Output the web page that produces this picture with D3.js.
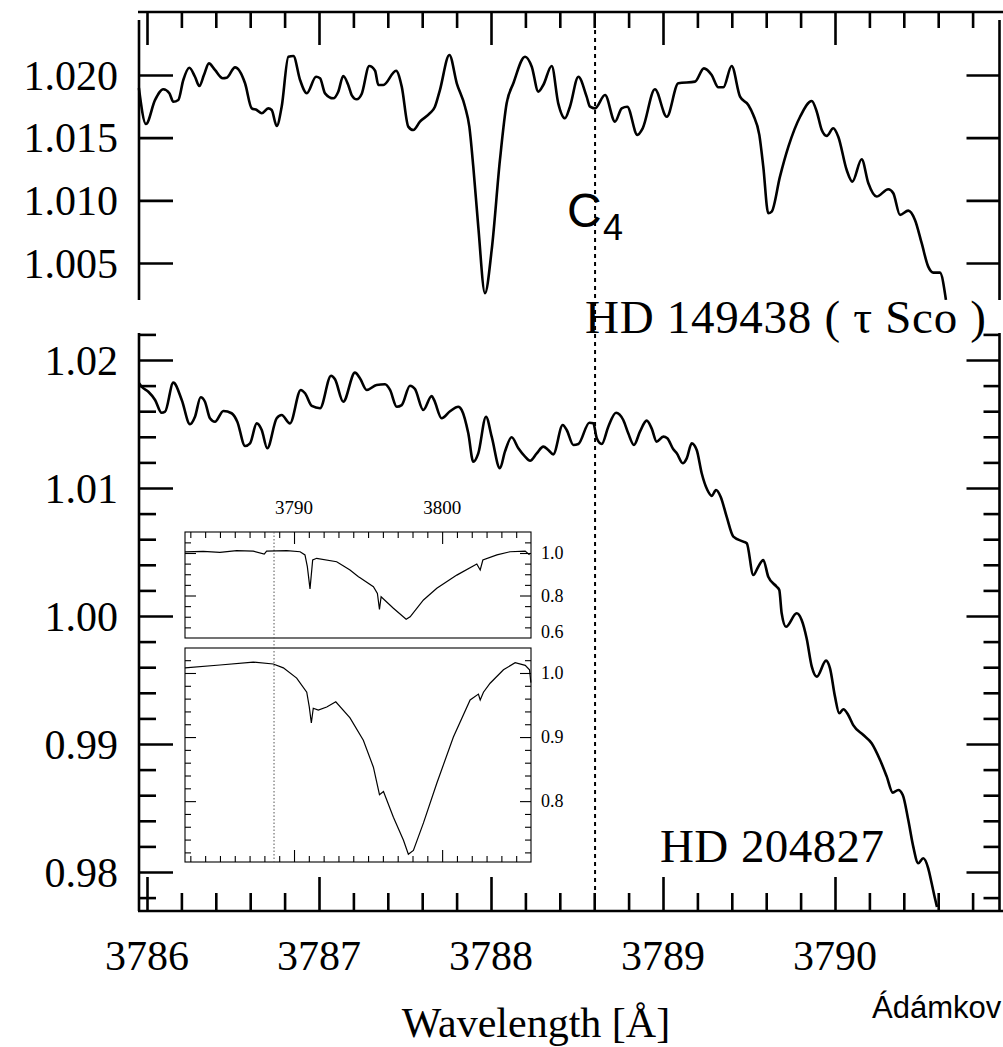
<!DOCTYPE html>
<html><head><meta charset="utf-8">
<script src="https://cdn.jsdelivr.net/npm/d3@7"></script>
<style>body{margin:0;background:#fff}svg{display:block}</style>
</head><body>
<script>
// ---------- DATA ----------
const topWave = [3785.953,3785.994,3786.047,3786.095,3786.130,3786.153,3786.182,3786.211,3786.246,3786.279,3786.304,3786.331,3786.360,3786.395,3786.440,3786.463,3786.512,3786.570,3786.609,3786.638,3786.667,3786.705,3786.725,3786.754,3786.783,3786.822,3786.851,3786.890,3786.929,3786.983,3787.006,3787.035,3787.083,3787.112,3787.141,3787.170,3787.190,3787.219,3787.248,3787.292,3787.326,3787.345,3787.374,3787.448,3787.481,3787.519,3787.548,3787.587,3787.645,3787.674,3787.703,3787.758,3787.801,3787.849,3787.874,3787.897,3787.926,3787.965,3788.004,3788.052,3788.091,3788.130,3788.198,3788.237,3788.275,3788.304,3788.353,3788.391,3788.430,3788.459,3788.508,3788.556,3788.576,3788.605,3788.663,3788.721,3788.760,3788.792,3788.851,3788.882,3788.953,3789.022,3789.089,3789.186,3789.238,3789.283,3789.322,3789.351,3789.399,3789.448,3789.496,3789.525,3789.560,3789.583,3789.612,3789.632,3789.680,3789.729,3789.797,3789.865,3789.894,3789.923,3789.952,3789.990,3790.019,3790.068,3790.101,3790.155,3790.194,3790.242,3790.310,3790.339,3790.378,3790.426,3790.465,3790.504,3790.542,3790.572,3790.610,3790.645];
const topFlux = [1.01896,1.01609,1.01801,1.01886,1.01854,1.01787,1.01801,1.01960,1.02058,1.01986,1.01912,1.02000,1.02093,1.02040,1.01974,1.01978,1.02061,1.01934,1.01734,1.01721,1.01695,1.01734,1.01721,1.01593,1.01747,1.02146,1.02152,1.01960,1.01854,1.01986,1.01974,1.01854,1.01814,1.01867,1.01992,1.01920,1.01840,1.01806,1.01848,1.02072,1.02034,1.01920,1.01920,1.02034,1.01907,1.01588,1.01561,1.01628,1.01695,1.01747,1.01880,1.02160,1.01934,1.01747,1.01588,1.01269,1.00790,1.00259,1.00604,1.01322,1.01774,1.01934,1.02146,1.02066,1.01867,1.01920,1.02072,1.01774,1.01655,1.01747,1.01986,1.01827,1.01747,1.01734,1.01840,1.01628,1.01734,1.01747,1.01522,1.01575,1.01886,1.01667,1.01934,1.01947,1.02053,1.02000,1.01902,1.01902,1.02072,1.01827,1.01761,1.01681,1.01522,1.01269,1.00897,1.00910,1.01189,1.01428,1.01667,1.01793,1.01707,1.01561,1.01514,1.01575,1.01508,1.01242,1.01149,1.01328,1.01136,1.01030,1.01089,1.01057,1.00884,1.00918,1.00844,1.00658,1.00471,1.00423,1.00423,1.00206];

const botWave = [3785.953,3785.969,3786.008,3786.047,3786.085,3786.105,3786.153,3786.202,3786.250,3786.279,3786.312,3786.337,3786.366,3786.395,3786.444,3786.492,3786.525,3786.570,3786.599,3786.638,3786.667,3786.699,3786.754,3786.783,3786.831,3786.894,3786.919,3786.958,3787.006,3787.070,3787.093,3787.141,3787.209,3787.238,3787.277,3787.335,3787.384,3787.413,3787.452,3787.481,3787.529,3787.558,3787.606,3787.655,3787.669,3787.713,3787.762,3787.810,3787.830,3787.868,3787.897,3787.926,3787.971,3788.004,3788.052,3788.081,3788.120,3788.159,3788.198,3788.227,3788.266,3788.304,3788.333,3788.362,3788.417,3788.440,3788.479,3788.508,3788.572,3788.595,3788.615,3788.644,3788.682,3788.727,3788.769,3788.798,3788.831,3788.866,3788.905,3788.934,3788.963,3789.002,3789.025,3789.060,3789.080,3789.115,3789.138,3789.167,3789.196,3789.225,3789.258,3789.283,3789.308,3789.335,3789.370,3789.409,3789.467,3789.487,3789.525,3789.554,3789.583,3789.612,3789.661,3789.676,3789.690,3789.715,3789.777,3789.806,3789.835,3789.865,3789.894,3789.948,3789.971,3790.000,3790.025,3790.048,3790.077,3790.106,3790.165,3790.213,3790.262,3790.301,3790.336,3790.368,3790.394,3790.426,3790.455,3790.484,3790.513,3790.542,3790.562,3790.581,3790.593];
const botFlux = [1.01820,1.01791,1.01752,1.01688,1.01588,1.01596,1.01823,1.01688,1.01498,1.01557,1.01709,1.01674,1.01545,1.01518,1.01602,1.01584,1.01518,1.01328,1.01349,1.01505,1.01453,1.01310,1.01545,1.01570,1.01505,1.01766,1.01740,1.01641,1.01623,1.01877,1.01849,1.01674,1.01901,1.01857,1.01766,1.01805,1.01810,1.01766,1.01635,1.01648,1.01799,1.01773,1.01609,1.01719,1.01688,1.01545,1.01600,1.01635,1.01609,1.01427,1.01205,1.01271,1.01557,1.01401,1.01154,1.01284,1.01396,1.01310,1.01245,1.01213,1.01271,1.01323,1.01297,1.01263,1.01492,1.01453,1.01336,1.01344,1.01510,1.01505,1.01388,1.01344,1.01479,1.01588,1.01531,1.01427,1.01336,1.01440,1.01526,1.01466,1.01362,1.01401,1.01388,1.01302,1.01271,1.01193,1.01232,1.01349,1.01297,1.01115,1.00984,1.00938,1.00984,1.00932,1.00776,1.00620,1.00581,1.00568,1.00320,1.00385,1.00438,1.00307,1.00229,1.00203,1.00021,0.99916,1.00021,0.99969,0.99826,0.99604,0.99526,0.99651,0.99591,0.99370,0.99240,0.99271,0.99227,0.99148,0.99070,0.99006,0.98875,0.98745,0.98620,0.98641,0.98602,0.98406,0.98198,0.98068,0.98107,0.98029,0.97912,0.97795,0.97727];

const insetTopWave = [3782.64,3783.87,3785.00,3786.13,3787.25,3787.99,3788.15,3789.51,3790.41,3790.74,3790.90,3791.08,3791.26,3791.53,3792.88,3793.78,3794.35,3794.46,3795.36,3795.63,3795.77,3795.88,3796.71,3797.57,3797.84,3798.74,3799.64,3800.99,3802.34,3802.57,3802.75,3803.70,3804.59,3805.61,3805.90];
const insetTopFlux = [1.005,1.008,1.003,1.011,1.009,0.995,1.009,1.011,1.006,0.991,0.936,0.831,0.967,0.975,0.959,0.920,0.888,0.884,0.841,0.810,0.735,0.794,0.740,0.688,0.700,0.779,0.834,0.896,0.948,0.920,0.967,0.991,1.006,1.009,0.991];
const insetBotWave = [3782.64,3785.00,3787.25,3788.60,3789.28,3790.18,3790.86,3791.03,3791.17,3791.30,3791.64,3792.21,3792.82,3793.78,3794.68,3795.36,3795.77,3796.04,3796.71,3797.39,3797.72,3798.06,3798.74,3799.64,3800.76,3801.89,3802.45,3802.57,3802.79,3803.24,3804.14,3804.93,3805.61,3805.90,3805.99];
const insetBotFlux = [1.008,1.0125,1.017,1.014,1.008,0.992,0.970,0.947,0.922,0.945,0.942,0.947,0.955,0.930,0.895,0.853,0.810,0.815,0.775,0.739,0.717,0.723,0.766,0.828,0.900,0.958,0.967,0.958,0.970,0.984,1.005,1.016,1.012,1.005,0.985];

const xTickLabels = ["3786","3787","3788","3789","3790"];
const topYTicks = [1.005,1.010,1.015,1.020];
const topYLabels = ["1.005","1.010","1.015","1.020"];
const botYMajor = [0.98,0.99,1.00,1.01,1.02];
const botYLabels = ["0.98","0.99","1.00","1.01","1.02"];
const insetXLabels = ["3790","3800"];
const insetTopYLabels = ["1.0","0.8","0.6"];
const insetBotYLabels = ["1.0","0.9","0.8"];
const c4Wave = 3788.605;
const c4InsetWave = 3788.65;

// ---------- LAYOUT ----------
const W = 1003, H = 1047;
const serif = "'Liberation Serif','Times New Roman',serif";
const sans = "'Liberation Sans',Arial,sans-serif";
const svg = d3.select("body").append("svg").attr("width", W).attr("height", H);

const xMain = d3.scaleLinear().domain([3786, 3790]).range([147, 835]);
const yTop = d3.scaleLinear().domain([1.005, 1.020]).range([263, 75]);
const yBot = d3.scaleLinear().domain([0.98, 1.02]).range([872, 360]);
const L = 139, R = 999.5;
const topPanel = [20, 300], botPanel = [333, 911];
const lw = 2.6;

const xMinor = d3.range(3786, 3790.81, 0.2).map(v => +v.toFixed(1)).filter(v => Math.abs(v - Math.round(v)) > 1e-6);
const xMajor = [3786, 3787, 3788, 3789, 3790];

function styleAxis(g) {
  g.select(".domain").remove();
  g.selectAll("line").attr("stroke", "#000").attr("stroke-width", lw);
  g.selectAll("text").remove();
}
// top x axis (ticks pointing down)
svg.append("g").attr("transform", "translate(0,12)")
  .call(d3.axisBottom(xMain).tickValues(xMajor).tickSize(33)).call(styleAxis);
svg.append("g").attr("transform", "translate(0,12)")
  .call(d3.axisBottom(xMain).tickValues(xMinor).tickSize(16)).call(styleAxis);
svg.append("line").attr("x1", L - 1).attr("x2", W).attr("y1", 12).attr("y2", 12).attr("stroke", "#000").attr("stroke-width", lw);

// bottom x axis (ticks pointing up)
svg.append("g").attr("transform", "translate(0,911)")
  .call(d3.axisTop(xMain).tickValues(xMajor).tickSize(34)).call(styleAxis);
svg.append("g").attr("transform", "translate(0,911)")
  .call(d3.axisTop(xMain).tickValues(xMinor).tickSize(18)).call(styleAxis);
svg.append("line").attr("x1", L - 1).attr("x2", W).attr("y1", 911).attr("y2", 911).attr("stroke", "#000").attr("stroke-width", lw);

svg.selectAll(".xlab").data(xTickLabels).enter().append("text")
  .attr("x", d => xMain(+d)).attr("y", 970).attr("text-anchor", "middle")
  .attr("font-family", serif).attr("font-size", 42).text(d => d);

svg.append("text").attr("x", 536).attr("y", 1037).attr("text-anchor", "middle")
  .attr("font-family", serif).attr("font-size", 42).text("Wavelength [Å]");

// top panel y axes
function vline(x, y1, y2) {
  svg.append("line").attr("x1", x).attr("x2", x).attr("y1", y1).attr("y2", y2).attr("stroke", "#000").attr("stroke-width", lw);
}
vline(L, topPanel[0], topPanel[1]);
vline(R, topPanel[0], topPanel[1]);
svg.append("g").attr("transform", `translate(${L},0)`)
  .call(d3.axisRight(yTop).tickValues(topYTicks).tickSize(34)).call(styleAxis);
svg.append("g").attr("transform", `translate(${R},0)`)
  .call(d3.axisLeft(yTop).tickValues(topYTicks).tickSize(33)).call(styleAxis);
svg.selectAll(".ytl").data(topYLabels).enter().append("text")
  .attr("x", 118).attr("y", d => yTop(+d) + 14.5).attr("text-anchor", "end")
  .attr("font-family", serif).attr("font-size", 42).text(d => d);

// bottom panel y axes
vline(L, botPanel[0], botPanel[1]);
vline(R, botPanel[0], botPanel[1]);
const botMinor = d3.range(0.978, 1.0225, 0.002).map(v => +v.toFixed(3)).filter(v => Math.abs(v * 100 - Math.round(v * 100)) > 1e-6);
svg.append("g").attr("transform", `translate(${L},0)`)
  .call(d3.axisRight(yBot).tickValues(botYMajor).tickSize(34)).call(styleAxis);
svg.append("g").attr("transform", `translate(${L},0)`)
  .call(d3.axisRight(yBot).tickValues(botMinor).tickSize(17)).call(styleAxis);
svg.append("g").attr("transform", `translate(${R},0)`)
  .call(d3.axisLeft(yBot).tickValues(botYMajor).tickSize(33)).call(styleAxis);
svg.append("g").attr("transform", `translate(${R},0)`)
  .call(d3.axisLeft(yBot).tickValues(botMinor).tickSize(16)).call(styleAxis);
svg.selectAll(".ybl").data(botYLabels).enter().append("text")
  .attr("x", 118).attr("y", d => yBot(+d) + 14.5).attr("text-anchor", "end")
  .attr("font-family", serif).attr("font-size", 42).text(d => d);

// C4 dashed line
svg.append("line").attr("x1", xMain(c4Wave)).attr("x2", xMain(c4Wave)).attr("y1", 30).attr("y2", 893)
  .attr("stroke", "#000").attr("stroke-width", 2).attr("stroke-dasharray", "4,4");

// spectra
const lineTop = d3.line().x(d => xMain(d[0])).y(d => yTop(d[1])).curve(d3.curveMonotoneX);
const lineBot = d3.line().x(d => xMain(d[0])).y(d => yBot(d[1])).curve(d3.curveMonotoneX);
svg.append("path").attr("d", lineTop(d3.zip(topWave, topFlux)))
  .attr("fill", "none").attr("stroke", "#000").attr("stroke-width", lw).attr("stroke-linejoin", "round");
svg.append("path").attr("d", lineBot(d3.zip(botWave, botFlux)))
  .attr("fill", "none").attr("stroke", "#000").attr("stroke-width", lw).attr("stroke-linejoin", "round");

// labels
svg.append("text").attr("x", 567).attr("y", 227).attr("font-family", sans).attr("font-size", 48).text("C");
svg.append("text").attr("x", 603).attr("y", 240).attr("font-family", sans).attr("font-size", 36).text("4");
svg.append("text").attr("x", 585).attr("y", 333).attr("font-family", serif).attr("font-size", 47)
  .attr("textLength", 401).attr("lengthAdjust", "spacing").text("HD 149438 ( τ Sco )");
svg.append("text").attr("x", 660).attr("y", 862).attr("font-family", serif).attr("font-size", 47)
  .attr("textLength", 224).attr("lengthAdjust", "spacing").text("HD 204827");
svg.append("text").attr("x", 872).attr("y", 1018).attr("font-family", sans).attr("font-size", 31).text("Ádámkov");

// ---------- INSET ----------
const xIn = d3.scaleLinear().domain([3782.64, 3806.0]).range([185, 531]);
const yInTop = d3.scaleLinear().domain([0.6, 1.1]).range([638, 531.75]);
const yInBot = d3.scaleLinear().domain([0.705, 1.039]).range([862, 648]);
const ilw = 1.1;
const ins = svg.append("g");
function irect(y0, y1) {
  ins.append("rect").attr("x", 185).attr("y", y0).attr("width", 346).attr("height", y1 - y0)
    .attr("fill", "#fff").attr("stroke", "#000").attr("stroke-width", ilw);
}
irect(532, 638);
irect(648, 862);
function istyle(g) {
  g.select(".domain").remove();
  g.selectAll("line").attr("stroke", "#000").attr("stroke-width", ilw);
  g.selectAll("text").remove();
}
const inXMinor = d3.range(3783, 3806, 1).filter(v => v % 10 !== 0);
const inXMajor = [3790, 3800];
ins.append("g").attr("transform", "translate(0,532)").call(d3.axisBottom(xIn).tickValues(inXMinor).tickSize(6)).call(istyle);
ins.append("g").attr("transform", "translate(0,532)").call(d3.axisBottom(xIn).tickValues(inXMajor).tickSize(12)).call(istyle);
ins.append("g").attr("transform", "translate(0,862)").call(d3.axisTop(xIn).tickValues(inXMinor).tickSize(6)).call(istyle);
ins.append("g").attr("transform", "translate(0,862)").call(d3.axisTop(xIn).tickValues(inXMajor).tickSize(12)).call(istyle);

const inTopMinor = [0.65, 0.7, 0.75, 0.85, 0.9, 0.95, 1.05];
const inTopMajor = [0.8, 1.0];
const inBotMinor = [0.72, 0.74, 0.76, 0.78, 0.82, 0.84, 0.86, 0.88, 0.92, 0.94, 0.96, 0.98, 1.02];
const inBotMajor = [0.8, 0.9, 1.0];
[[yInTop, inTopMinor, inTopMajor], [yInBot, inBotMinor, inBotMajor]].forEach(([ys, mi, ma]) => {
  ins.append("g").attr("transform", "translate(185,0)").call(d3.axisRight(ys).tickValues(mi).tickSize(6)).call(istyle);
  ins.append("g").attr("transform", "translate(185,0)").call(d3.axisRight(ys).tickValues(ma).tickSize(11)).call(istyle);
  ins.append("g").attr("transform", "translate(531,0)").call(d3.axisLeft(ys).tickValues(mi).tickSize(6)).call(istyle);
  ins.append("g").attr("transform", "translate(531,0)").call(d3.axisLeft(ys).tickValues(ma).tickSize(11)).call(istyle);
});

ins.append("line").attr("x1", xIn(c4InsetWave)).attr("x2", xIn(c4InsetWave)).attr("y1", 532).attr("y2", 862)
  .attr("stroke", "#555").attr("stroke-width", 1).attr("stroke-dasharray", "1.5,2");

const lInTop = d3.line().x(d => xIn(d[0])).y(d => yInTop(d[1]));
const lInBot = d3.line().x(d => xIn(d[0])).y(d => yInBot(d[1]));
ins.append("path").attr("d", lInTop(d3.zip(insetTopWave, insetTopFlux))).attr("fill", "none").attr("stroke", "#000").attr("stroke-width", 1.2);
ins.append("path").attr("d", lInBot(d3.zip(insetBotWave, insetBotFlux))).attr("fill", "none").attr("stroke", "#000").attr("stroke-width", 1.2);

ins.selectAll(".ixl").data(insetXLabels).enter().append("text")
  .attr("x", d => xIn(+d)).attr("y", 514).attr("text-anchor", "middle")
  .attr("font-family", serif).attr("font-size", 19).text(d => d);
ins.selectAll(".itl").data(insetTopYLabels).enter().append("text")
  .attr("x", 541).attr("y", d => Math.min(yInTop(+d) + 6, 638)).attr("font-family", serif).attr("font-size", 18).text(d => d);
ins.selectAll(".ibl").data(insetBotYLabels).enter().append("text")
  .attr("x", 541).attr("y", d => yInBot(+d) + 6).attr("font-family", serif).attr("font-size", 18).text(d => d);
</script>
</body></html>
